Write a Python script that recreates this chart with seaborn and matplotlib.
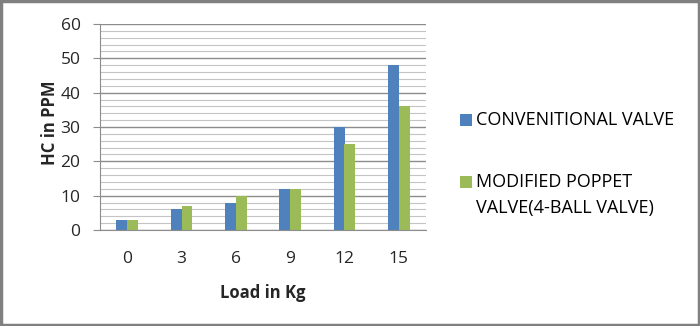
import matplotlib
matplotlib.use("Agg")
import matplotlib.pyplot as plt
import seaborn as sns
import pandas as pd
from matplotlib.patches import Rectangle
from matplotlib.ticker import MultipleLocator

loads = ["0", "3", "6", "9", "12", "15"]
conventional = [3, 6, 8, 12, 30, 48]
modified = [3, 7, 10, 12, 25, 36]
series_names = ["CONVENITIONAL VALVE", "MODIFIED POPPET\nVALVE(4-BALL VALVE)"]
colors = ["#4F81BD", "#9BBB59"]

df = pd.DataFrame({
    "load": loads * 2,
    "value": conventional + modified,
    "series": [series_names[0]] * len(loads) + [series_names[1]] * len(loads),
})

sns.set_style("white")
plt.rcParams["font.family"] = ["Open Sans", "DejaVu Sans"]

W, H = 700, 326
fig = plt.figure(figsize=(W / 100, H / 100), dpi=100)
ax = fig.add_axes([100 / W, 1 - 230 / H, 326 / W, 206 / H])

sns.barplot(data=df, x="load", y="value", hue="series", palette=colors,
            width=0.4, ax=ax, legend=False, saturation=1, linewidth=0)

ax.set_ylim(0, 60)
ax.set_xlim(-0.5, 5.5)
ax.yaxis.set_major_locator(MultipleLocator(10))
ax.yaxis.set_minor_locator(MultipleLocator(2))
ax.grid(True, which="major", axis="y", color="#8c8c8c", linewidth=1.0)
ax.grid(True, which="minor", axis="y", color="#c4c4c4", linewidth=0.8)
ax.set_axisbelow(True)

for s in ["top", "right"]:
    ax.spines[s].set_visible(False)
ax.spines["left"].set_color("#8c8c8c")
ax.spines["bottom"].set_color("#8c8c8c")

ax.tick_params(axis="y", which="major", length=5, color="#8c8c8c", direction="out",
               labelsize=12.5, pad=9, left=True)
ax.tick_params(axis="y", which="minor", length=0)
ax.tick_params(axis="x", length=0, labelsize=12.5, pad=15)

ax.set_xlabel("Load in Kg", fontsize=12, fontweight="bold", labelpad=12)
ax.set_ylabel("HC in PPM", fontsize=12, fontweight="bold")
ax.yaxis.set_label_coords(-0.127, 0.52)

# legend drawn manually (top-aligned markers like the reference)
leg_items = [(series_names[0], colors[0], 120), (series_names[1], colors[1], 182)]
for name, col, yc in leg_items:
    fig.patches.append(Rectangle((460 / W, 1 - (yc + 6) / H), 12 / W, 12 / H,
                                 transform=fig.transFigure, facecolor=col,
                                 edgecolor="none"))
    fig.text(476 / W, 1 - (yc - 9) / H, name, fontsize=13, va="top", ha="left",
             linespacing=1.55, color="#000000")

fig.patches.append(Rectangle((0.002, 0.004), 0.996, 0.992, transform=fig.transFigure,
                             fill=False, edgecolor="#808080", linewidth=2.5))

fig.savefig("out.png", dpi=100)
